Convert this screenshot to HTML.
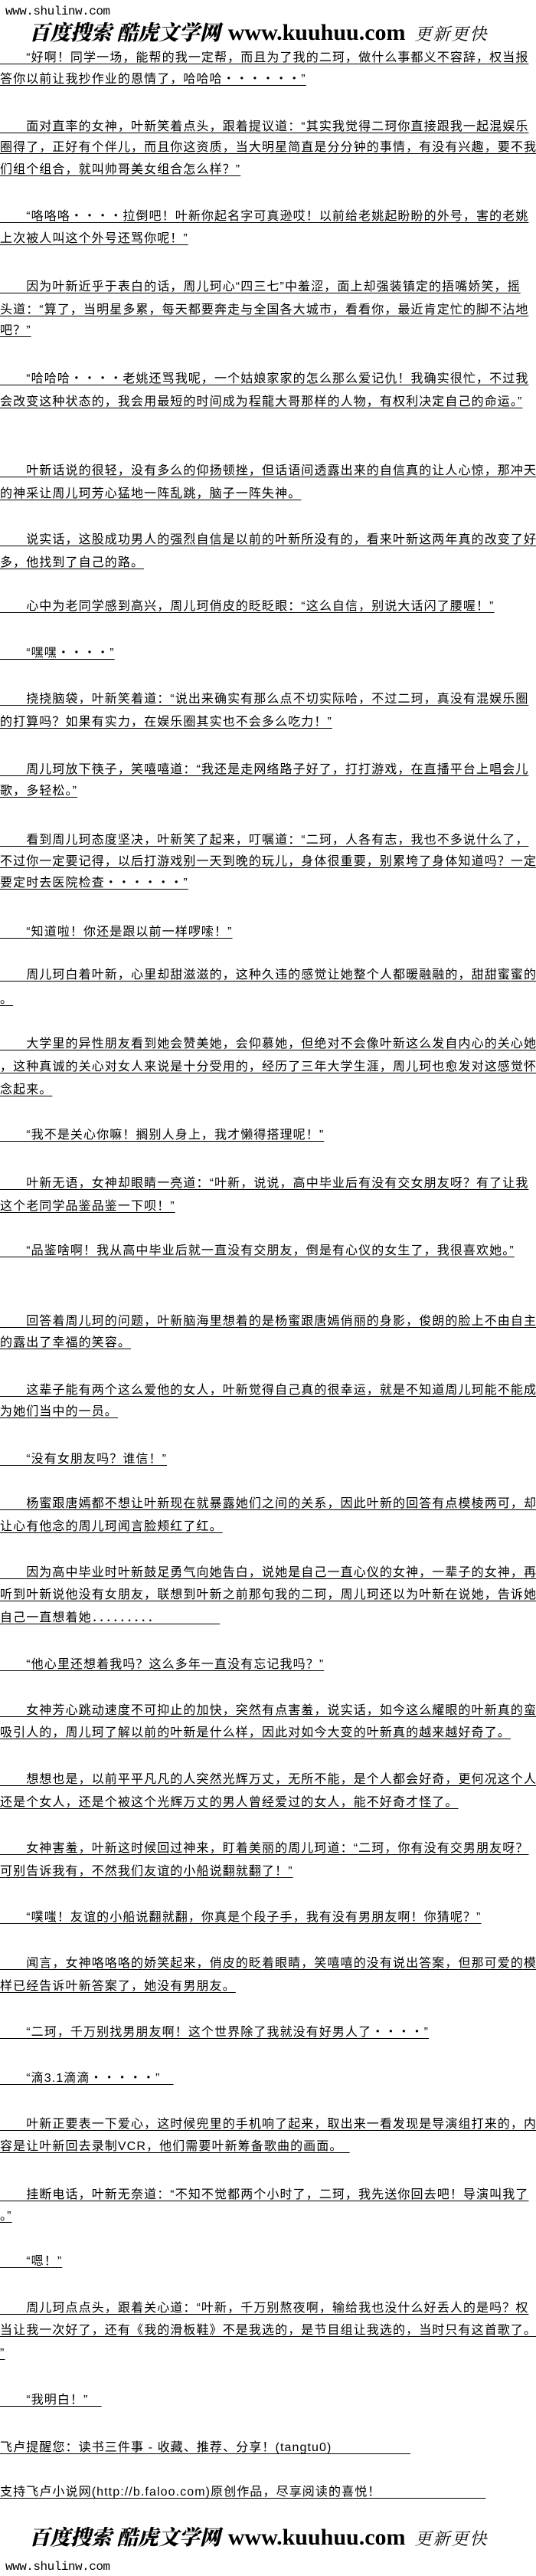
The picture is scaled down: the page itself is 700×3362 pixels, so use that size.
<!DOCTYPE html>
<html><head><meta charset="utf-8">
<style>
html,body{margin:0;padding:0;background:#fff;}
body{width:700px;height:3362px;position:relative;overflow:hidden;color:#000;
font-family:"Liberation Sans","Noto Sans CJK SC","WenQuanYi Zen Hei",sans-serif;}
.l{position:absolute;left:0;height:28px;line-height:28px;font-size:16px;letter-spacing:1.1px;white-space:pre;text-decoration:underline;text-underline-offset:3px;}
.site{position:absolute;left:7px;font-family:"Liberation Mono",monospace;font-size:16px;letter-spacing:-0.5px;line-height:20px;}
.logo{position:absolute;left:38px;height:36px;line-height:36px;white-space:nowrap;}
.logo .cn{font-family:"Liberation Serif","Noto Serif CJK SC",serif;font-weight:900;font-size:27px;font-style:italic;letter-spacing:0px;}
.logo .en{font-family:"Liberation Serif",serif;font-weight:bold;font-size:30px;margin-left:10px;}
.logo .cn2{font-family:"Liberation Serif","Noto Serif CJK SC",serif;font-size:22px;font-style:italic;margin-left:12px;letter-spacing:2px;}
</style></head><body>
<div class="site" style="top:5px">www.shulinw.com</div>
<div class="logo" style="top:25px"><span class="cn">百度搜索 酷虎文学网</span><span class="en">www.kuuhuu.com</span><span class="cn2">更新更快</span></div>

<div class="l" style="top:62px">　　“好啊！同学一场，能帮的我一定帮，而且为了我的二珂，做什么事都义不容辞，权当报</div>
<div class="l" style="top:90px">答你以前让我抄作业的恩情了，哈哈哈・・・・・・”</div>
<div class="l" style="top:152px">　　面对直率的女神，叶新笑着点头，跟着提议道：“其实我觉得二珂你直接跟我一起混娱乐</div>
<div class="l" style="top:179px">圈得了，正好有个伴儿，而且你这资质，当大明星简直是分分钟的事情，有没有兴趣，要不我</div>
<div class="l" style="top:208px">们组个组合，就叫帅哥美女组合怎么样？”</div>
<div class="l" style="top:269px">　　“咯咯咯・・・・拉倒吧！叶新你起名字可真逊哎！以前给老姚起盼盼的外号，害的老姚</div>
<div class="l" style="top:298px">上次被人叫这个外号还骂你呢！”</div>
<div class="l" style="top:361px">　　因为叶新近乎于表白的话，周儿珂心“四三七”中羞涩，面上却强装镇定的捂嘴娇笑，摇</div>
<div class="l" style="top:391px">头道：“算了，当明星多累，每天都要奔走与全国各大城市，看看你，最近肯定忙的脚不沾地</div>
<div class="l" style="top:418px">吧？”</div>
<div class="l" style="top:481px">　　“哈哈哈・・・・老姚还骂我呢，一个姑娘家家的怎么那么爱记仇！我确实很忙，不过我</div>
<div class="l" style="top:511px">会改变这种状态的，我会用最短的时间成为程龍大哥那样的人物，有权利决定自己的命运。”</div>
<div class="l" style="top:601px">　　叶新话说的很轻，没有多么的仰扬顿挫，但话语间透露出来的自信真的让人心惊，那冲天</div>
<div class="l" style="top:631px">的神采让周儿珂芳心猛地一阵乱跳，脑子一阵失神。</div>
<div class="l" style="top:691px">　　说实话，这股成功男人的强烈自信是以前的叶新所没有的，看来叶新这两年真的改变了好</div>
<div class="l" style="top:721px">多，他找到了自己的路。</div>
<div class="l" style="top:778px">　　心中为老同学感到高兴，周儿珂俏皮的眨眨眼：“这么自信，别说大话闪了腰喔！”</div>
<div class="l" style="top:839px">　　“嘿嘿・・・・”</div>
<div class="l" style="top:899px">　　挠挠脑袋，叶新笑着道：“说出来确实有那么点不切实际哈，不过二珂，真没有混娱乐圈</div>
<div class="l" style="top:929px">的打算吗？如果有实力，在娱乐圈其实也不会多么吃力！”</div>
<div class="l" style="top:991px">　　周儿珂放下筷子，笑嘻嘻道：“我还是走网络路子好了，打打游戏，在直播平台上唱会儿</div>
<div class="l" style="top:1019px">歌，多轻松。”</div>
<div class="l" style="top:1083px">　　看到周儿珂态度坚决，叶新笑了起来，叮嘱道：“二珂，人各有志，我也不多说什么了，</div>
<div class="l" style="top:1111px">不过你一定要记得，以后打游戏别一天到晚的玩儿，身体很重要，别累垮了身体知道吗？一定</div>
<div class="l" style="top:1139px">要定时去医院检查・・・・・・”</div>
<div class="l" style="top:1203px">　　“知道啦！你还是跟以前一样啰嗦！”</div>
<div class="l" style="top:1259px">　　周儿珂白着叶新，心里却甜滋滋的，这种久违的感觉让她整个人都暖融融的，甜甜蜜蜜的</div>
<div class="l" style="top:1291px">。</div>
<div class="l" style="top:1349px">　　大学里的异性朋友看到她会赞美她，会仰慕她，但绝对不会像叶新这么发自内心的关心她</div>
<div class="l" style="top:1379px">，这种真诚的关心对女人来说是十分受用的，经历了三年大学生涯，周儿珂也愈发对这感觉怀</div>
<div class="l" style="top:1409px">念起来。</div>
<div class="l" style="top:1468px">　　“我不是关心你嘛！搁别人身上，我才懒得搭理呢！”</div>
<div class="l" style="top:1531px">　　叶新无语，女神却眼睛一亮道：“叶新，说说，高中毕业后有没有交女朋友呀？有了让我</div>
<div class="l" style="top:1561px">这个老同学品鉴品鉴一下呗！”</div>
<div class="l" style="top:1619px">　　“品鉴啥啊！我从高中毕业后就一直没有交朋友，倒是有心仪的女生了，我很喜欢她。”</div>
<div class="l" style="top:1711px">　　回答着周儿珂的问题，叶新脑海里想着的是杨蜜跟唐嫣俏丽的身影，俊朗的脸上不由自主</div>
<div class="l" style="top:1739px">的露出了幸福的笑容。</div>
<div class="l" style="top:1801px">　　这辈子能有两个这么爱他的女人，叶新觉得自己真的很幸运，就是不知道周儿珂能不能成</div>
<div class="l" style="top:1829px">为她们当中的一员。</div>
<div class="l" style="top:1891px">　　“没有女朋友吗？谁信！”</div>
<div class="l" style="top:1949px">　　杨蜜跟唐嫣都不想让叶新现在就暴露她们之间的关系，因此叶新的回答有点模棱两可，却</div>
<div class="l" style="top:1979px">让心有他念的周儿珂闻言脸颊红了红。</div>
<div class="l" style="top:2039px">　　因为高中毕业时叶新鼓足勇气向她告白，说她是自己一直心仪的女神，一辈子的女神，再</div>
<div class="l" style="top:2068px">听到叶新说他没有女朋友，联想到叶新之前那句我的二珂，周儿珂还以为叶新在说她，告诉她</div>
<div class="l" style="top:2098px">自己一直想着她．．．．．．．．．　　　　　</div>
<div class="l" style="top:2159px">　　“他心里还想着我吗？这么多年一直没有忘记我吗？”</div>
<div class="l" style="top:2219px">　　女神芳心跳动速度不可抑止的加快，突然有点害羞，说实话，如今这么耀眼的叶新真的蛮</div>
<div class="l" style="top:2248px">吸引人的，周儿珂了解以前的叶新是什么样，因此对如今大变的叶新真的越来越好奇了。</div>
<div class="l" style="top:2309px">　　想想也是，以前平平凡凡的人突然光辉万丈，无所不能，是个人都会好奇，更何况这个人</div>
<div class="l" style="top:2339px">还是个女人，还是个被这个光辉万丈的男人曾经爱过的女人，能不好奇才怪了。</div>
<div class="l" style="top:2399px">　　女神害羞，叶新这时候回过神来，盯着美丽的周儿珂道：“二珂，你有没有交男朋友呀？</div>
<div class="l" style="top:2429px">可别告诉我有，不然我们友谊的小船说翻就翻了！”</div>
<div class="l" style="top:2489px">　　“噗嗤！友谊的小船说翻就翻，你真是个段子手，我有没有男朋友啊！你猜呢？”</div>
<div class="l" style="top:2549px">　　闻言，女神咯咯咯的娇笑起来，俏皮的眨着眼睛，笑嘻嘻的没有说出答案，但那可爱的模</div>
<div class="l" style="top:2579px">样已经告诉叶新答案了，她没有男朋友。</div>
<div class="l" style="top:2639px">　　“二珂，千万别找男朋友啊！这个世界除了我就没有好男人了・・・・”</div>
<div class="l" style="top:2699px">　　“滴3.1滴滴・・・・・”　</div>
<div class="l" style="top:2759px">　　叶新正要表一下爱心，这时候兜里的手机响了起来，取出来一看发现是导演组打来的，内</div>
<div class="l" style="top:2788px">容是让叶新回去录制VCR，他们需要叶新筹备歌曲的画面。　</div>
<div class="l" style="top:2851px">　　挂断电话，叶新无奈道：“不知不觉都两个小时了，二珂，我先送你回去吧！导演叫我了</div>
<div class="l" style="top:2879px">。”</div>
<div class="l" style="top:2938px">　　“嗯！”</div>
<div class="l" style="top:2999px">　　周儿珂点点头，跟着关心道：“叶新，千万别熬夜啊，输给我也没什么好丢人的是吗？权</div>
<div class="l" style="top:3028px">当让我一次好了，还有《我的滑板鞋》不是我选的，是节目组让我选的，当时只有这首歌了。</div>
<div class="l" style="top:3058px">”</div>
<div class="l" style="top:3119px">　　“我明白！”　</div>
<div class="l" style="top:3181px">飞卢提醒您：读书三件事 - 收藏、推荐、分享！(tangtu0)　　　　　　</div>
<div class="l" style="top:3239px">支持飞卢小说网(http://b.faloo.com)原创作品，尽享阅读的喜悦！　　　　　　　　</div>

<div class="logo" style="top:3294px"><span class="cn">百度搜索 酷虎文学网</span><span class="en">www.kuuhuu.com</span><span class="cn2">更新更快</span></div>
<div class="site" style="top:3340px">www.shulinw.com</div>
</body></html>
